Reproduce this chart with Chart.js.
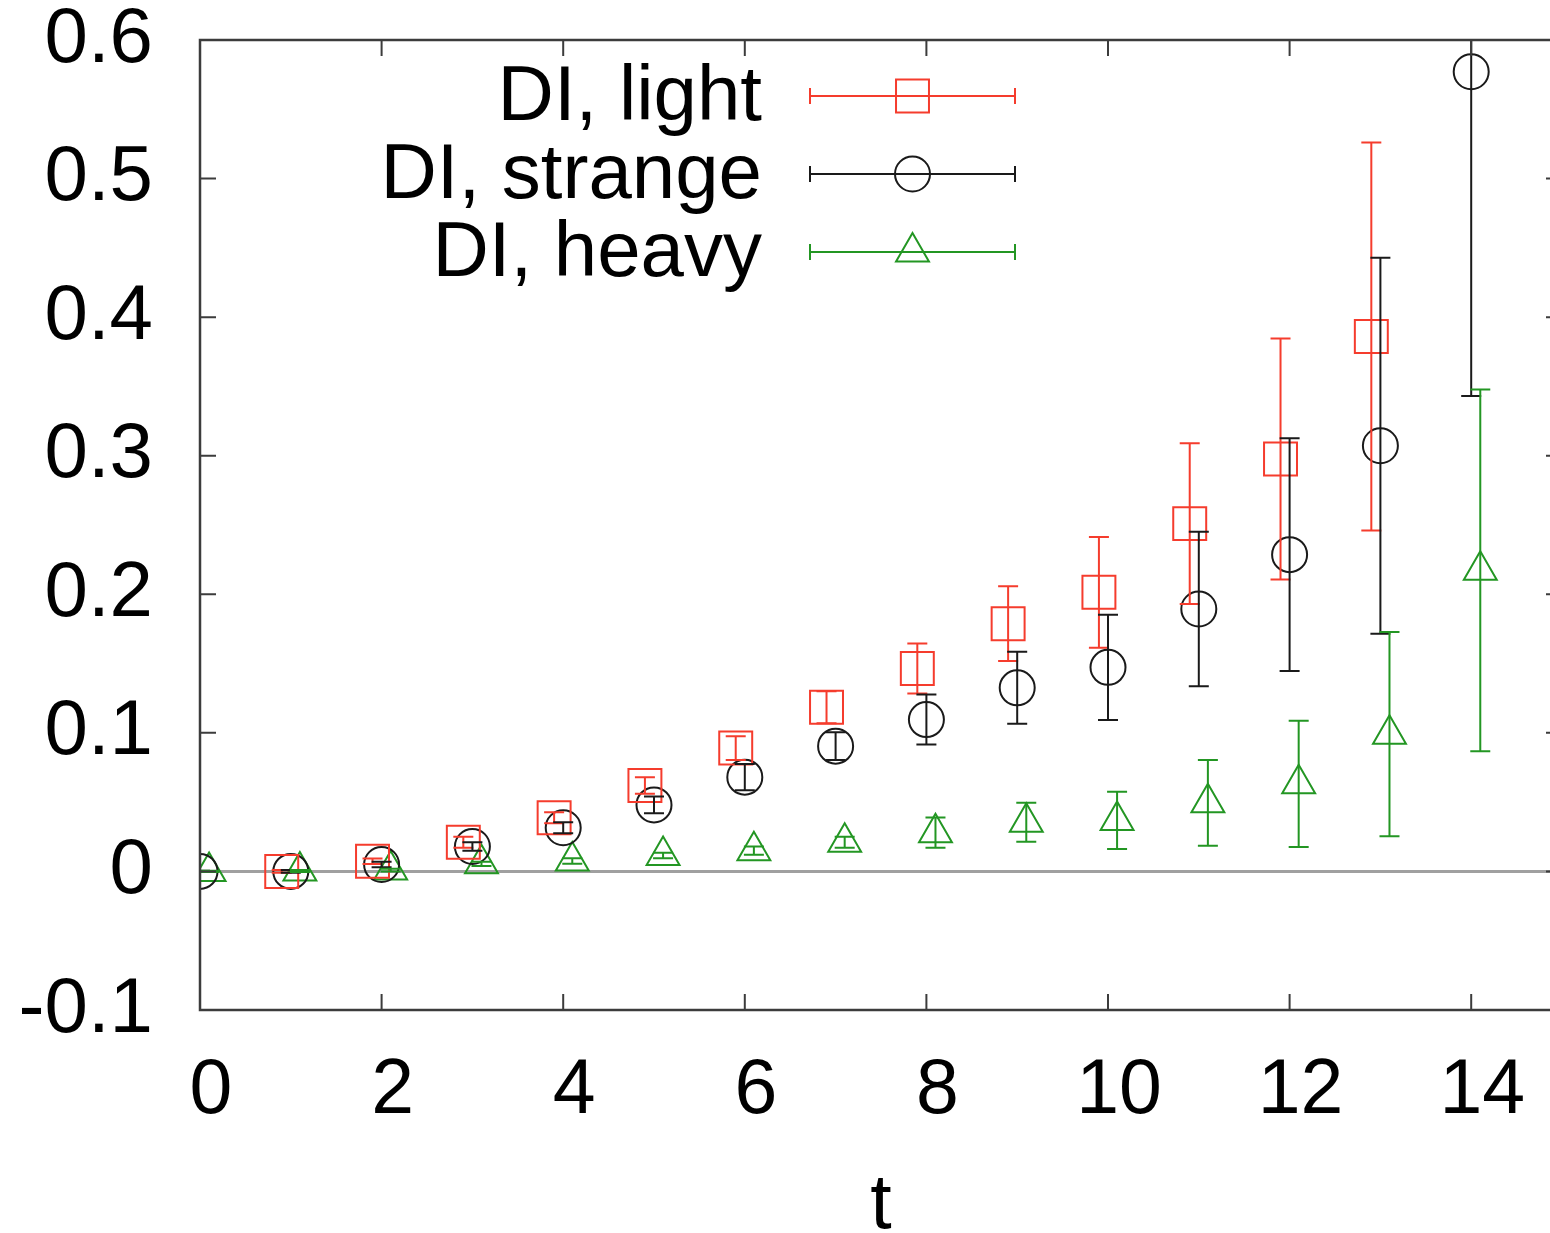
<!DOCTYPE html>
<html>
<head>
<meta charset="utf-8">
<script src="https://cdn.jsdelivr.net/npm/chart.js@4/dist/chart.umd.min.js"></script>
<style>
html,body{margin:0;padding:0;background:#fff;overflow:hidden;width:1550px;height:1233px}
canvas{display:block}
</style>
</head>
<body>
<canvas id="c" width="1600" height="1233" style="width:1600px;height:1233px"></canvas>
<script>
// ---- data ----
const xTicksLabels = [0, 2, 4, 6, 8, 10, 12, 14];
const yTickLabels = [-0.1, 0, 0.1, 0.2, 0.3, 0.4, 0.5, 0.6];

const seriesNames = ['DI, light', 'DI, strange', 'DI, heavy'];

const lightT   = [1, 2, 3, 4, 5, 6, 7, 8, 9, 10, 11, 12, 13];
const lightY   = [0.000, 0.0074, 0.021, 0.0387, 0.062, 0.089, 0.1185, 0.1464, 0.1788, 0.2014, 0.251, 0.2976, 0.386];
const lightErr = [0.001, 0.002, 0.004, 0.004, 0.006, 0.0086, 0.0115, 0.018, 0.027, 0.040, 0.058, 0.087, 0.140];
const lightShift = -0.1;

const strangeT   = [0, 1, 2, 3, 4, 5, 6, 7, 8, 9, 10, 11, 12, 13, 14];
const strangeY   = [0.000, 0.000, 0.005, 0.018, 0.0315, 0.048, 0.068, 0.0904, 0.1096, 0.1325, 0.1473, 0.1894, 0.2286, 0.3072, 0.5771];
const strangeErr = [0.0005, 0.001, 0.002, 0.003, 0.004, 0.006, 0.0095, 0.010, 0.018, 0.026, 0.038, 0.0557, 0.084, 0.1357, 0.234];
const strangeShift = 0;

const heavyT   = [0, 1, 2, 3, 4, 5, 6, 7, 8, 9, 10, 11, 12, 13, 14];
const heavyY   = [0.000, 0.0003, 0.001, 0.0055, 0.0075, 0.0115, 0.015, 0.021, 0.028, 0.0355, 0.0368, 0.0495, 0.0632, 0.099, 0.2173];
const heavyErr = [0.0005, 0.0008, 0.001, 0.0015, 0.002, 0.002, 0.003, 0.004, 0.011, 0.014, 0.0207, 0.031, 0.0455, 0.0737, 0.1305];
const heavyShift = 0.1;

// ---- styles ----
const FONT = '"Liberation Sans", Arial, Helvetica, sans-serif';
const RED = 'rgb(245,60,45)';
const BLACK = '#1a1a1a';
const GREEN = 'rgb(35,150,35)';
const FRAME = '#3c3c3c';

function pts(ts, ys, shift) { return ts.map((t, i) => ({x: t + shift, y: ys[i]})); }

const datasets = [
  {label: seriesNames[0], data: pts(lightT, lightY, lightShift), errors: lightErr,
   pointStyle: 'rect', pointRadius: 23.3, borderColor: RED, pointBorderColor: RED,
   pointBackgroundColor: 'rgba(0,0,0,0)', pointBorderWidth: 2},
  {label: seriesNames[1], data: pts(strangeT, strangeY, strangeShift), errors: strangeErr,
   pointStyle: 'circle', pointRadius: 17.5, borderColor: BLACK, pointBorderColor: BLACK,
   pointBackgroundColor: 'rgba(0,0,0,0)', pointBorderWidth: 2},
  {label: seriesNames[2], data: pts(heavyT, heavyY, heavyShift), errors: heavyErr,
   pointStyle: 'triangle', pointRadius: 19, borderColor: GREEN, pointBorderColor: GREEN,
   pointBackgroundColor: 'rgba(0,0,0,0)', pointBorderWidth: 2}
];

const CAP = 10;
const TICKLEN = 16;

const framePlugin = {
  id: 'frame',
  beforeDatasetsDraw(chart) {
    const {ctx, chartArea: a, scales: {y}} = chart;
    const y0 = y.getPixelForValue(0);
    ctx.save();
    ctx.strokeStyle = '#a0a0a0';
    ctx.lineWidth = 3;
    ctx.beginPath();
    ctx.moveTo(a.left, y0); ctx.lineTo(a.right, y0);
    ctx.stroke();
    ctx.restore();
  },
  afterDatasetsDraw(chart) {
    const {ctx, chartArea: a, scales: {y}} = chart;
    ctx.save();
    ctx.beginPath();
    ctx.rect(a.left, a.top, a.right - a.left, a.bottom - a.top);
    ctx.clip();
    chart.data.datasets.forEach((ds, i) => {
      const meta = chart.getDatasetMeta(i);
      ctx.strokeStyle = ds.borderColor;
      ctx.lineWidth = 2;
      meta.data.forEach((el, j) => {
        const v = ds.data[j].y, e = ds.errors[j];
        const yl = y.getPixelForValue(v - e), yh = y.getPixelForValue(v + e);
        ctx.beginPath();
        ctx.moveTo(el.x, yl); ctx.lineTo(el.x, yh);
        ctx.moveTo(el.x - CAP, yl); ctx.lineTo(el.x + CAP, yl);
        ctx.moveTo(el.x - CAP, yh); ctx.lineTo(el.x + CAP, yh);
        ctx.stroke();
      });
    });
    ctx.restore();
  },
  afterDraw(chart) {
    const {ctx, chartArea: a, scales: {x, y}} = chart;
    ctx.save();
    ctx.strokeStyle = FRAME;
    ctx.lineWidth = 2.5;
    ctx.strokeRect(a.left, a.top, a.right - a.left, a.bottom - a.top);
    ctx.lineWidth = 2;
    ctx.beginPath();
    y.ticks.forEach(tk => {
      const py = y.getPixelForValue(tk.value);
      ctx.moveTo(a.left, py); ctx.lineTo(a.left + TICKLEN, py);
      ctx.moveTo(a.right, py); ctx.lineTo(a.right - TICKLEN, py);
    });
    x.ticks.forEach(tk => {
      const px = x.getPixelForValue(tk.value);
      ctx.moveTo(px, a.bottom); ctx.lineTo(px, a.bottom - TICKLEN);
      ctx.moveTo(px, a.top); ctx.lineTo(px, a.top + TICKLEN);
    });
    ctx.stroke();

    // legend
    const textRight = a.left + 562;
    const lx0 = a.left + 610, lx1 = a.left + 815, lxm = (lx0 + lx1) / 2;
    const rows = [a.top + 56, a.top + 134, a.top + 212];
    ctx.font = '78px ' + FONT;
    ctx.textAlign = 'right';
    ctx.textBaseline = 'middle';
    chart.data.datasets.forEach((ds, i) => {
      const ry = rows[i];
      ctx.fillStyle = '#000';
      ctx.fillText(ds.label, textRight, ry + 2);
      ctx.strokeStyle = ds.borderColor;
      ctx.lineWidth = 2;
      ctx.beginPath();
      ctx.moveTo(lx0, ry); ctx.lineTo(lx1, ry);
      ctx.moveTo(lx0, ry - 8); ctx.lineTo(lx0, ry + 8);
      ctx.moveTo(lx1, ry - 8); ctx.lineTo(lx1, ry + 8);
      ctx.stroke();
      ctx.fillStyle = 'rgba(0,0,0,0)';
      Chart.helpers.drawPoint(ctx, {pointStyle: ds.pointStyle, radius: ds.pointRadius, borderWidth: 2, rotation: 0}, lxm, ry);
    });
    ctx.restore();
  }
};

new Chart(document.getElementById('c'), {
  type: 'scatter',
  data: {datasets},
  options: {
    responsive: false,
    animation: false,
    devicePixelRatio: 1,
    layout: {padding: {top: 40, right: 38, left: 0, bottom: 0}},
    plugins: {legend: {display: false}, tooltip: {enabled: false}},
    scales: {
      x: {
        type: 'linear', min: 0, max: 15,
        afterFit: s => { s.height = 223; s.paddingLeft = 0; s.paddingRight = 0; },
        grid: {display: false, drawTicks: false},
        border: {display: false},
        ticks: {
          stepSize: 2, includeBounds: false, autoSkip: false, maxRotation: 0,
          font: {family: FONT, size: 77, lineHeight: 1}, color: '#000',
          padding: 43, labelOffset: 11,
          callback: v => xTicksLabels.includes(v) ? String(v) : ''
        },
        title: {display: true, text: 't', color: '#000',
                font: {family: FONT, size: 77, lineHeight: 0.5},
                padding: {top: 0, bottom: 7}}
      },
      y: {
        type: 'linear', min: -0.1, max: 0.6,
        afterFit: s => { s.width = 200; s.paddingTop = 0; s.paddingBottom = 0; },
        grid: {display: false, drawTicks: false},
        border: {display: false},
        ticks: {
          stepSize: 0.1, autoSkip: false,
          font: {family: FONT, size: 78, lineHeight: 1}, color: '#000',
          padding: 47,
          callback: v => { const r = Math.round(v * 10) / 10; return yTickLabels.includes(r) ? String(r) : ''; }
        }
      }
    }
  },
  plugins: [framePlugin]
});
</script>
</body>
</html>
